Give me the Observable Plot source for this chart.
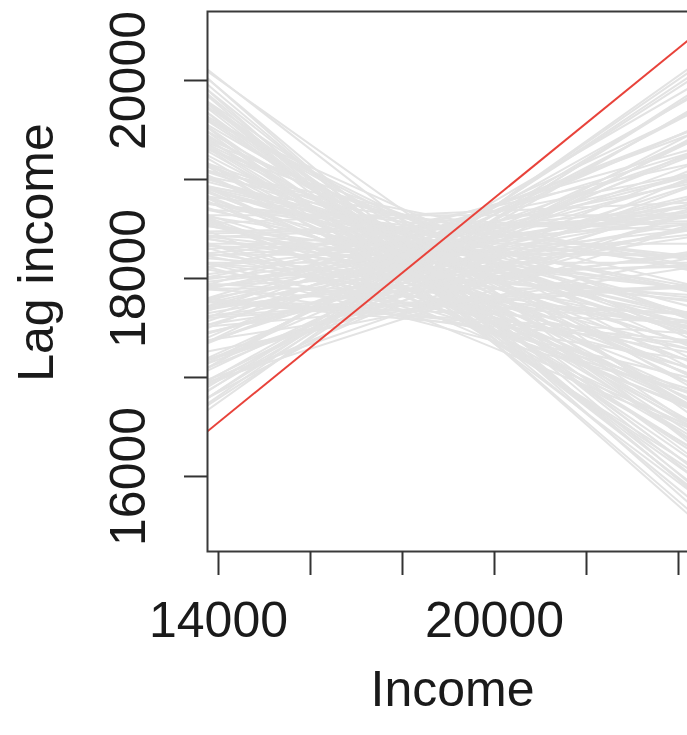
<!DOCTYPE html>
<html>
<head>
<meta charset="utf-8">
<script src="https://cdn.jsdelivr.net/npm/d3@7"></script>
<script src="https://cdn.jsdelivr.net/npm/@observablehq/plot@0.6"></script>
<style>
  html, body { margin: 0; padding: 0; background: #fff; overflow: hidden; }
  #chart { width: 687px; height: 735px; overflow: hidden; }
</style>
</head>
<body>
<div id="chart"></div>
<script>
// Axis settings
const xDomain = [13761, 24413];
const yDomain = [15242, 20697];
const xTicks = [14000, 16000, 18000, 20000, 22000, 24000];
const xTickLabels = ["14000", "", "", "20000", "", ""];
const yTicks = [16000, 17000, 18000, 19000, 20000];
const yTickLabels = ["16000", "", "18000", "", "20000"];
const xTitle = "Income";
const yTitle = "Lag income";

// Income at which each line's level is read
const pivotIncome = 18400;

// Observed regression line (red)
const observedSlope = 0.378;
const observedLevel = 18210;

// Permutation regression lines (grey): slope and level at pivotIncome
const permSlopes = [
  -0.41, 0.30, -0.10, 0.06, -0.22, -0.03, -0.36, 0.14, -0.07, 0.02, -0.18, 0.20, -0.30, -0.05, 0.09, -0.15, 0.32, -0.25, 0.00, -0.12,
  -0.33, 0.11, -0.14, 0.17, -0.06, -0.27, 0.07, -0.39, -0.01, -0.19, 0.24, -0.09, 0.12, -0.34, -0.04, -0.21, 0.04, -0.08, 0.19, -0.31,
  0.08, -0.16, 0.28, -0.20, 0.00, -0.38, 0.15, -0.11, 0.03, -0.24, 0.05, -0.07, 0.22, -0.17, -0.29, 0.10, -0.05, -0.02, -0.23, 0.33,
  -0.21, 0.01, -0.34, 0.13, -0.10, 0.18, -0.14, -0.02, -0.40, 0.08, -0.12, 0.26, -0.27, 0.02, -0.06, 0.16, -0.19, -0.37, 0.05, -0.13,
  0.20, -0.06, -0.28, 0.10, -0.11, 0.27, -0.23, -0.03, -0.17, 0.07, -0.35, 0.14, -0.09, -0.32, 0.04, 0.23, -0.15, -0.20, 0.00, -0.26,
  0.12, -0.37, -0.04, 0.09, -0.13, 0.17, -0.18, -0.08, 0.31, -0.28, 0.02, -0.22, 0.06, -0.36, 0.15, -0.10, -0.06, 0.21, -0.16, -0.03,
  -0.31, 0.11, -0.12, 0.25, -0.24, 0.03, -0.39, 0.08, -0.07, 0.19, -0.20, -0.14, 0.00, -0.26, 0.13, -0.41, 0.05, -0.17, 0.29, -0.09,
  -0.05, -0.18, 0.16, -0.30, 0.04, -0.11, 0.22, -0.25, -0.01, 0.10, -0.33, 0.14, -0.08, 0.06, -0.21, 0.27, -0.15, -0.38, 0.01, -0.12,
  0.18, -0.02, -0.29, 0.07, -0.16, 0.24, -0.07, -0.35, 0.12, -0.20, 0.00, -0.27, 0.09, -0.10, 0.30, -0.23, -0.04, 0.15, -0.13, -0.32,
  0.03, -0.19, 0.13, -0.09, -0.26, 0.20, -0.14, 0.05, -0.36, 0.17, -0.06, -0.22, 0.10, -0.31, 0.01, -0.12, 0.26, -0.03, -0.17, 0.08
];
const permLevels = [
  18120, 18250, 18450, 17900, 18300, 17620, 18050, 18180, 18600, 18020, 17750, 18100, 18200, 18520, 17680, 18380, 18220, 18000, 18640, 17800,
  17950, 18400, 17700, 18150, 18550, 18300, 17860, 18150, 18280, 17600, 18050, 18660, 18330, 18200, 17580, 18070, 18480, 17720, 17980, 18350,
  18090, 18420, 18200, 17850, 18350, 18000, 17650, 18260, 17760, 18500, 18150, 17930, 18380, 18030, 17820, 18570, 18190, 17670, 18290, 18200,
  18620, 18060, 18100, 17780, 18230, 18440, 17990, 18340, 17990, 18170, 17560, 18300, 17880, 18510, 18120, 17720, 18270, 18190, 17940, 18400,
  17850, 18480, 18050, 18220, 17640, 18120, 18360, 17810, 18580, 18010, 17900, 18450, 18140, 18250, 17700, 18040, 18310, 17960, 18160, 18430,
  18280, 18050, 17610, 18530, 18110, 17930, 18000, 18390, 18230, 18150, 18650, 17790, 18320, 18440, 18060, 18470, 17870, 18170, 18560, 18010,
  17880, 18190, 18420, 17950, 18130, 17740, 18210, 18020, 18300, 18380, 17680, 18260, 17900, 18080, 18540, 18000, 18350, 17830, 18140, 18610,
  18100, 17760, 18310, 18020, 18440, 18580, 18090, 18230, 17720, 18160, 18560, 17830, 18030, 18270, 17940, 18350, 18210, 18100, 18520, 17990,
  18180, 18600, 17990, 17700, 18390, 18260, 17590, 18150, 18000, 18480, 18240, 17960, 18430, 18070, 18110, 18540, 18020, 17880, 18300, 18050,
  18370, 18140, 18050, 17810, 18280, 18330, 17660, 18200, 18000, 18460, 18250, 18010, 17920, 18180, 18500, 18350, 18170, 17750, 18080, 18280
];

const lineAt = (slope, level) => ({
  x1: xDomain[0], y1: level + slope * (xDomain[0] - pivotIncome),
  x2: xDomain[1], y2: level + slope * (xDomain[1] - pivotIncome)
});
const permLines = permSlopes.map((s, i) => lineAt(s, permLevels[i]));
const observedLine = [lineAt(observedSlope, observedLevel)];
const yLabelData = yTicks.map((v, i) => ({ value: v, label: yTickLabels[i] })).filter((d) => d.label);

const font = "'Liberation Sans', Arial, Helvetica, sans-serif";
const ink = "#1a1a1a";

const plot = Plot.plot({
  width: 687,
  height: 735,
  marginLeft: 207,
  marginTop: 11,
  marginBottom: 184,
  marginRight: -10,
  style: { fontFamily: font, background: "#fff", color: ink, overflow: "hidden" },
  x: { domain: xDomain, axis: null },
  y: { domain: yDomain, axis: null },
  marks: [
    Plot.link(permLines, { x1: "x1", y1: "y1", x2: "x2", y2: "y2", stroke: "#e3e3e3", strokeWidth: 2, clip: true }),
    Plot.link(observedLine, { x1: "x1", y1: "y1", x2: "x2", y2: "y2", stroke: "#e8423a", strokeWidth: 2, clip: true }),
    Plot.frame({ stroke: "#3a3a3a", strokeWidth: 2 }),
    Plot.axisX({
      ticks: xTicks, tickSize: 24, tickPadding: 26, stroke: "#333", strokeWidth: 2,
      tickFormat: (d) => xTickLabels[xTicks.indexOf(d)], fontSize: 50, fill: ink,
      lineAnchor: "top", label: null
    }),
    Plot.axisY({
      ticks: yTicks, tickSize: 23, stroke: "#333", strokeWidth: 2,
      tickFormat: () => "", label: null
    }),
    Plot.text(yLabelData, {
      y: "value", text: "label", frameAnchor: "left", dx: -79, rotate: -90,
      textAnchor: "middle", lineAnchor: "middle", fontSize: 50, fill: ink
    }),
    Plot.text([xTitle], { frameAnchor: "bottom", text: (d) => d, dy: 119, textAnchor: "middle", lineAnchor: "top", fontSize: 50, fill: ink }),
    Plot.text([yTitle], { frameAnchor: "left", text: (d) => d, dx: -190, dy: -29, rotate: -90, textAnchor: "middle", lineAnchor: "top", fontSize: 50, fill: ink })
  ]
});
document.getElementById("chart").appendChild(plot);
</script>
</body>
</html>
